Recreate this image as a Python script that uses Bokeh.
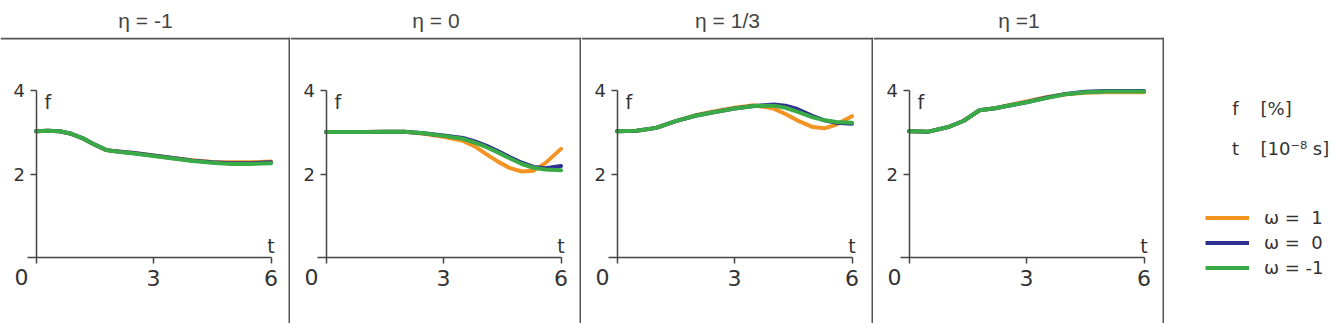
from bokeh.plotting import figure
from bokeh.models import Range1d, LinearAxis, FixedTicker, Span, Label, Legend, LegendItem
from bokeh.layouts import row
from bokeh.embed import file_html
from bokeh.resources import INLINE

# ---------------- data ----------------
panel_titles = ["η = -1", "η = 0", "η = 1/3", "η =1"]
series_labels = ["ω =  1", "ω =  0", "ω = -1"]
series_colors = ["#F39322", "#2E3192", "#3AAA47"]
x_ticks = [3, 6]
x_tick_labels = {3: "3", 6: "6"}
y_ticks = [2, 4]
y_tick_labels = {2: "2", 4: "4"}
unit_symbols = ["f", "t"]
unit_texts = ["[%]", "[10⁻⁸ s]"]

t_eta_m1 = [0, 0.3, 0.6, 0.9, 1.2, 1.5, 1.8, 2.1, 2.5, 3.0, 3.5, 4.0, 4.5, 5.0, 5.5, 6.0]
f_eta_m1_w1 = [3.02, 3.03, 3.02, 2.96, 2.85, 2.70, 2.57, 2.54, 2.50, 2.44, 2.38, 2.33, 2.29, 2.28, 2.28, 2.30]
f_eta_m1_w0 = [3.02, 3.03, 3.02, 2.96, 2.85, 2.70, 2.57, 2.54, 2.50, 2.44, 2.38, 2.32, 2.28, 2.26, 2.26, 2.28]
f_eta_m1_wm1 = [3.02, 3.03, 3.02, 2.96, 2.85, 2.70, 2.57, 2.53, 2.49, 2.43, 2.37, 2.31, 2.27, 2.24, 2.24, 2.26]

t_eta_0 = [0, 0.5, 1.0, 1.5, 2.0, 2.5, 3.0, 3.5, 3.8, 4.1, 4.4, 4.7, 5.0, 5.3, 5.6, 6.0]
f_eta_0_w1 = [3.00, 3.00, 3.00, 3.01, 3.01, 2.96, 2.89, 2.79, 2.66, 2.47, 2.29, 2.14, 2.06, 2.08, 2.26, 2.60]
f_eta_0_w0 = [3.00, 3.00, 3.00, 3.01, 3.01, 2.97, 2.92, 2.86, 2.78, 2.67, 2.54, 2.40, 2.27, 2.17, 2.14, 2.19]
f_eta_0_wm1 = [3.00, 3.00, 3.00, 3.01, 3.01, 2.97, 2.91, 2.84, 2.75, 2.64, 2.51, 2.37, 2.24, 2.15, 2.11, 2.09]

t_eta_13 = [0, 0.5, 1.0, 1.5, 2.0, 2.5, 3.0, 3.5, 4.0, 4.3, 4.6, 5.0, 5.3, 5.6, 6.0]
f_eta_13_w1 = [3.02, 3.03, 3.10, 3.26, 3.40, 3.50, 3.58, 3.64, 3.56, 3.43, 3.28, 3.12, 3.09, 3.18, 3.38]
f_eta_13_w0 = [3.02, 3.03, 3.10, 3.26, 3.39, 3.48, 3.56, 3.62, 3.66, 3.63, 3.55, 3.38, 3.28, 3.22, 3.20]
f_eta_13_wm1 = [3.02, 3.03, 3.10, 3.26, 3.39, 3.48, 3.56, 3.62, 3.63, 3.58, 3.49, 3.35, 3.28, 3.24, 3.22]

t_eta_1 = [0, 0.5, 1.0, 1.4, 1.8, 2.2, 2.6, 3.0, 3.5, 4.0, 4.5, 5.0, 5.5, 6.0]
f_eta_1_w1 = [3.02, 3.01, 3.12, 3.27, 3.52, 3.57, 3.65, 3.73, 3.83, 3.90, 3.94, 3.95, 3.95, 3.95]
f_eta_1_w0 = [3.02, 3.01, 3.12, 3.27, 3.52, 3.57, 3.64, 3.71, 3.82, 3.91, 3.96, 3.98, 3.98, 3.98]
f_eta_1_wm1 = [3.02, 3.01, 3.12, 3.27, 3.52, 3.57, 3.64, 3.71, 3.81, 3.90, 3.95, 3.97, 3.97, 3.97]

panels_t = [t_eta_m1, t_eta_0, t_eta_13, t_eta_1]
panels_f = [
    [f_eta_m1_w1, f_eta_m1_w0, f_eta_m1_wm1],
    [f_eta_0_w1, f_eta_0_w0, f_eta_0_wm1],
    [f_eta_13_w1, f_eta_13_w0, f_eta_13_wm1],
    [f_eta_1_w1, f_eta_1_w0, f_eta_1_wm1],
]

# ---------------- layout constants ----------------
FONT = "Liberation Sans"
WFONT = "DejaVu Sans"
TXT = "#333333"
AXC = "#444444"
H = 323
WIDTHS = [290, 291, 292, 291]
OX = 35.5          # pixel x of t=0 inside each panel
OY = 257.0         # pixel y of f=0
SX = 235.0 / 6     # px per t unit
SY = 169.0 / 4     # px per f unit
TOP = 35           # frame top
BOX_TOP = 36       # pixel y of top border line

figs = []
for i, W in enumerate(WIDTHS):
    p = figure(width=W, height=H, output_backend="svg", toolbar_location=None,
               x_range=Range1d(-OX / SX, (W - OX) / SX),
               y_range=Range1d(-(H - OY) / SY, (OY - TOP) / SY),
               x_axis_location=None, y_axis_location=None,
               min_border_left=0, min_border_right=0, min_border_bottom=0,
               min_border_top=TOP, title=panel_titles[i])
    p.grid.visible = False
    p.outline_line_color = None
    p.background_fill_color = "white"
    p.border_fill_color = "white"
    p.title.align = "center"
    p.title.text_font = FONT
    p.title.text_font_size = "21px"
    p.title.text_font_style = "normal"
    p.title.text_color = "#444444"
    p.title.standoff = 12

    xa = LinearAxis(fixed_location=0, bounds=(-0.22, 6), ticker=FixedTicker(ticks=x_ticks),
                    major_label_overrides=x_tick_labels)
    ya = LinearAxis(fixed_location=0, bounds=(-0.13, 4), ticker=FixedTicker(ticks=y_ticks),
                    major_label_overrides=y_tick_labels)
    for ax, tout, sto, fs in ((xa, 6, 6, "22px"), (ya, 6, 5, "18px")):
        ax.axis_line_color = AXC
        ax.axis_line_width = 1.5
        ax.major_tick_line_color = AXC
        ax.major_tick_line_width = 1.5
        ax.major_tick_out = tout
        ax.major_tick_in = 0
        ax.minor_tick_line_color = None
        ax.major_label_text_font = WFONT
        ax.major_label_text_font_size = fs
        ax.major_label_text_color = TXT
        ax.major_label_standoff = sto
    p.add_layout(xa, "below")
    p.add_layout(ya, "left")

    # origin label, axis names
    p.add_layout(Label(x=-0.37, y=-0.45, text="0", text_align="center", text_baseline="middle",
                       text_font=WFONT, text_font_size="22px", text_color=TXT))
    p.add_layout(Label(x=0.30, y=3.72, text="f", text_align="center", text_baseline="middle",
                       text_font=WFONT, text_font_size="19px", text_color=TXT))
    p.add_layout(Label(x=6.0, y=0.28, text="t", text_align="center", text_baseline="middle",
                       text_font=WFONT, text_font_size="19px", text_color=TXT))

    # panel box lines
    p.add_layout(Span(location=(OY - BOX_TOP) / SY, dimension="width",
                      line_color="#555555", line_width=2))
    p.add_layout(Span(location=(W - 1 - OX) / SX, dimension="height",
                      line_color="#555555", line_width=2))

    for k in range(3):
        p.line(panels_t[i], panels_f[i][k], line_color=series_colors[k], line_width=4,
               line_cap="round", line_join="round")
    figs.append(p)

# ---------------- legend panel ----------------
LW = 1336 - sum(WIDTHS)
lg = figure(width=LW, height=H, output_backend="svg", toolbar_location=None,
            x_range=Range1d(0, LW), y_range=Range1d(H, TOP),
            x_axis_location=None, y_axis_location=None,
            min_border_left=0, min_border_right=0, min_border_bottom=0, min_border_top=TOP)
lg.title.visible = False
lg.outline_line_color = None
lg.grid.visible = False

unit_y = [106, 147]
for sym, unit, yy in zip(unit_symbols, unit_texts, unit_y):
    lg.add_layout(Label(x=71, y=yy, text=sym, text_align="center", text_baseline="middle",
                        text_font=WFONT, text_font_size="18px", text_color=TXT))
    lg.add_layout(Label(x=96, y=yy, text=unit, text_align="left", text_baseline="middle",
                        text_font=WFONT, text_font_size="18px", text_color=TXT))

items = []
for k in range(3):
    r = lg.line([-100, -90], [-100, -100], line_color=series_colors[k], line_width=4)
    items.append(LegendItem(label=series_labels[k], renderers=[r]))
legend = Legend(items=items, location=(41, 43), orientation="vertical",
                padding=0, margin=0, spacing=0, label_height=25, glyph_height=25,
                glyph_width=44, label_standoff=15, border_line_color=None,
                background_fill_alpha=0, label_text_font=WFONT,
                label_text_font_size="18px", label_text_color=TXT)
lg.add_layout(legend)

layout = row(*figs, lg, spacing=0)
open("out.html", "w").write(file_html(layout, INLINE))
